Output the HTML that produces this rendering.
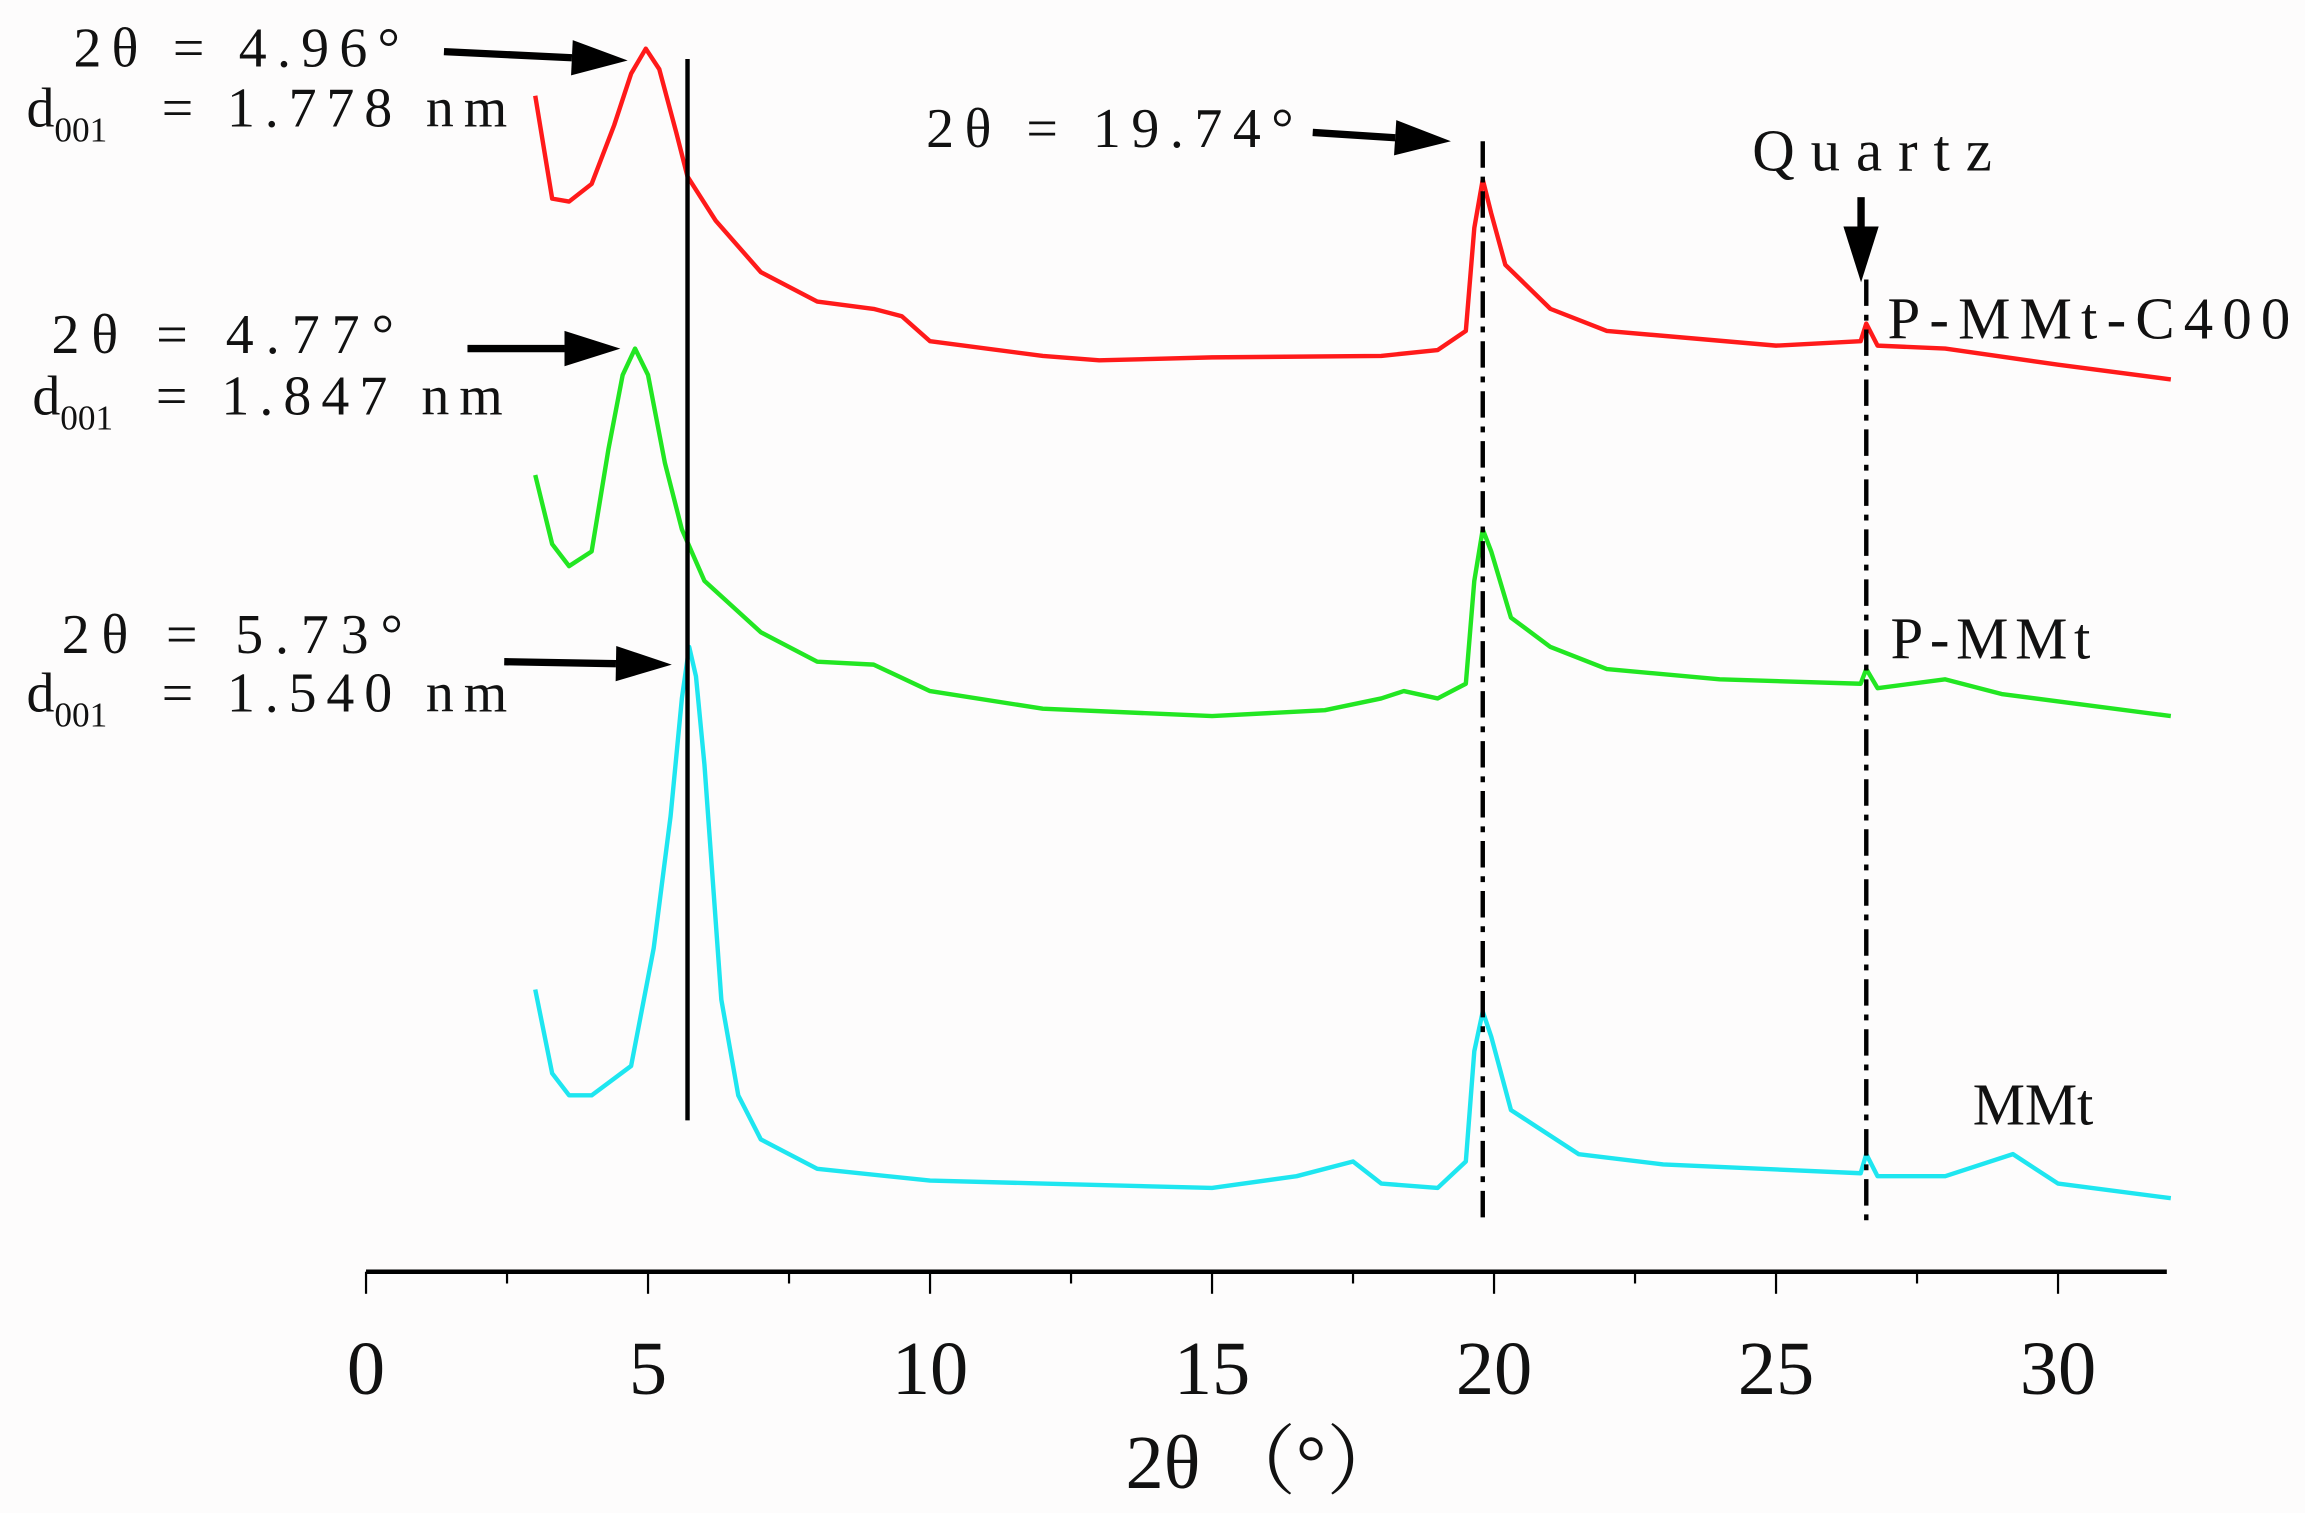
<!DOCTYPE html>
<html><head><meta charset="utf-8"><style>
html,body{margin:0;padding:0;background:#fdfcfc;}
svg{display:block;}
text{font-family:"Liberation Serif","Noto Serif CJK SC",serif;fill:#111;}
</style></head><body>
<svg id="chart" width="2305" height="1513" viewBox="0 0 1568 1029" xmlns="http://www.w3.org/2000/svg">
<rect width="1568" height="1029" fill="#fdfcfc"/>
<g id="axis"></g>
<g id="series"></g>
<g id="annot">
<text x="50" y="45" font-size="38" textLength="222" lengthAdjust="spacing">2θ = 4.96°</text>
<text x="18" y="86" font-size="38">d<tspan font-size="24" dy="10">001</tspan><tspan dy="-10" x="110" textLength="235" lengthAdjust="spacing">= 1.778 nm</tspan></text>
<text x="35" y="240" font-size="38" textLength="233" lengthAdjust="spacing">2θ = 4.77°</text>
<text x="22" y="282" font-size="38">d<tspan font-size="24" dy="10">001</tspan><tspan dy="-10" x="106" textLength="236" lengthAdjust="spacing">= 1.847 nm</tspan></text>
<text x="42" y="444" font-size="38" textLength="232" lengthAdjust="spacing">2θ = 5.73°</text>
<text x="18" y="484" font-size="38">d<tspan font-size="24" dy="10">001</tspan><tspan dy="-10" x="110" textLength="235" lengthAdjust="spacing">= 1.540 nm</tspan></text>
<text x="630" y="100" font-size="38" textLength="250" lengthAdjust="spacing">2θ = 19.74°</text>
<text x="1192" y="116" font-size="40" textLength="163" lengthAdjust="spacing">Quartz</text>
<text x="1284" y="230" font-size="40" textLength="274" lengthAdjust="spacing">P-MMt-C400</text>
<text x="1286" y="448" font-size="40" textLength="136" lengthAdjust="spacing">P-MMt</text>
<text x="1342" y="765" font-size="40" textLength="82" lengthAdjust="spacing">MMt</text>
</g>
</svg>
<script>
const ticks=[0,5,10,15,20,25,30];
const redX=[3,3.3,3.6,4,4.4,4.7,4.96,5.2,5.5,5.7,6.2,7,8,9,9.5,10,12,13,15,18,19,19.5,19.65,19.8,19.95,20.2,21,22,25,26.5,26.6,26.8,28,30,32];
const redY=[800,730,728,740,780,815,832,818,775,745,715,680,660,655,650,633,623,620,622,623,627,640,710,743,720,685,655,640,630,633,645,630,628,617,607];
const greenX=[3,3.3,3.6,4,4.3,4.55,4.77,5.0,5.3,5.6,6,7,8,9,10,12,15,17,18,18.4,19,19.5,19.65,19.8,19.95,20.3,21,22,24,26.5,26.6,26.8,28,29,32];
const greenY=[542,495,480,490,560,610,628,610,550,505,470,435,415,413,395,383,378,382,390,395,390,400,470,505,490,445,425,410,403,400,410,397,403,393,378];
const cyanX=[3,3.3,3.6,4,4.7,5.1,5.4,5.6,5.73,5.85,6.0,6.3,6.6,7,8,10,12,15,16.5,17.5,18,19,19.5,19.65,19.8,19.95,20.3,20.7,21.5,23,26.5,26.6,26.8,28,29.2,30,32];
const cyanY=[192,135,120,120,140,220,310,390,425,405,345,185,120,90,70,62,60,57,65,75,60,57,75,150,177,160,110,100,80,73,67,80,65,65,80,60,50];
const vLines=[5.7,19.8,26.6];
const NS="http://www.w3.org/2000/svg";
const xs=v=>249+v*(1400-249)/30;
const ys=v=>865-v;
const ax=document.getElementById('axis');
function mk(t,a,p){const e=document.createElementNS(NS,t);for(const k in a)e.setAttribute(k,a[k]);p.appendChild(e);return e;}
const al=mk('line',{x1:249,y1:865,x2:1474,y2:865,stroke:'#000','stroke-width':3},ax);


for(let v=0;v<=32;v+=2.5){const major=v%5===0;const t=mk('line',{x1:xs(v),y1:865,x2:xs(v),y2:major?880:873,stroke:'#000','stroke-width':1.5},ax);

}
ticks.forEach(v=>{const t=mk('text',{x:xs(v),y:948,'font-size':52,'text-anchor':'middle'},ax);t.textContent=v;

});
const tt=mk('text',{x:860,y:1012,'font-size':52,'text-anchor':'middle'},ax);tt.textContent='2θ （°）';


const sg=document.getElementById('series');
function series(X,Y,c,n){const p=mk('polyline',{points:X.map((x,i)=>xs(x)+','+ys(Y[i])).join(' '),fill:'none',stroke:c,'stroke-width':3,'stroke-linejoin':'round'},sg);

}
series(redX,redY,'#ff1a1a','p-mmt-c400-line');
series(greenX,greenY,'#22e622','p-mmt-line');
series(cyanX,cyanY,'#1ee6f0','mmt-line');
const vl1=mk('line',{x1:xs(vLines[0]),y1:40,x2:xs(vLines[0]),y2:762,stroke:'#000','stroke-width':3},sg);


const vl2=mk('line',{x1:xs(vLines[1]),y1:96,x2:xs(vLines[1]),y2:830,stroke:'#000','stroke-width':3,'stroke-dasharray':'18,6,4,6'},sg);


const vl3=mk('line',{x1:xs(vLines[2]),y1:190,x2:xs(vLines[2]),y2:836,stroke:'#000','stroke-width':3,'stroke-dasharray':'18,6,4,6'},sg);


const an=document.getElementById('annot');
function arrow(x1,y1,x2,y2,n){const g=mk('g',{},an);


const a=Math.atan2(y2-y1,x2-x1),L=38,W=12;const bx=x2-L*Math.cos(a),by=y2-L*Math.sin(a);
mk('line',{x1:x1,y1:y1,x2:bx,y2:by,stroke:'#000','stroke-width':5},g);
mk('polygon',{points:`${x2},${y2} ${bx-W*Math.sin(a)},${by+W*Math.cos(a)} ${bx+W*Math.sin(a)},${by-W*Math.cos(a)}`,fill:'#000'},g);}
arrow(302,35,427,41,'c400-arrow');
arrow(318,237,422,237,'pmmt-arrow');
arrow(343,450,457,452,'mmt-arrow');
arrow(893,90,987,96,'peak-1974-arrow');
arrow(1266,134,1266,192,'quartz-arrow');
</script>
</body></html>
